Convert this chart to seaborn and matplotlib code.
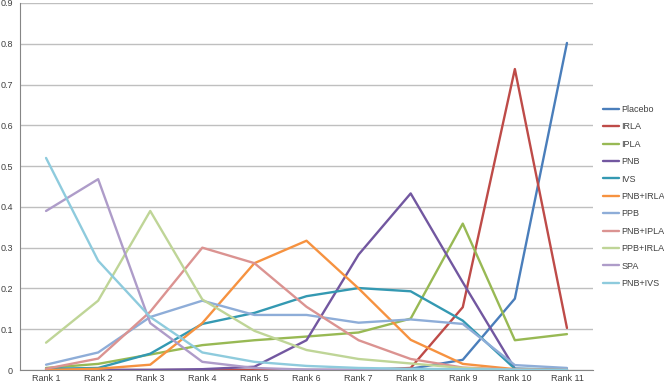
import pandas as pd
import numpy as np
import matplotlib
matplotlib.use("Agg")
import matplotlib.pyplot as plt
import seaborn as sns

# categorias do eixo x
ranks = ['Rank 1', 'Rank 2', 'Rank 3', 'Rank 4', 'Rank 5', 'Rank 6',
         'Rank 7', 'Rank 8', 'Rank 9', 'Rank 10', 'Rank 11']

# probabilidades
placebo = [0.0, 0.0, 0.0, 0.0, 0.0, 0.0, 0.0, 0.003, 0.025, 0.175, 0.802]
irla = [0.0, 0.0, 0.0, 0.0, 0.0, 0.0, 0.0, 0.005, 0.154, 0.738, 0.103]
ipla = [0.005, 0.015, 0.038, 0.061, 0.073, 0.082, 0.092, 0.126, 0.359, 0.073, 0.088]
pnb = [0.0, 0.0, 0.0, 0.002, 0.008, 0.073, 0.283, 0.433, 0.215, 0.003, 0.0]
ivs = [0.003, 0.005, 0.04, 0.113, 0.14, 0.181, 0.201, 0.193, 0.121, 0.003, 0.002]
pnb_irla = [0.0, 0.003, 0.013, 0.115, 0.262, 0.317, 0.2, 0.074, 0.015, 0.002, 0.0]
ppb = [0.013, 0.043, 0.13, 0.17, 0.135, 0.135, 0.116, 0.124, 0.113, 0.012, 0.005]
pnb_ipla = [0.003, 0.028, 0.143, 0.3, 0.262, 0.155, 0.073, 0.027, 0.006, 0.001, 0.0]
ppb_irla = [0.067, 0.17, 0.39, 0.173, 0.096, 0.049, 0.027, 0.016, 0.005, 0.0, 0.0]
spa = [0.39, 0.468, 0.115, 0.02, 0.005, 0.001, 0.0, 0.0, 0.0, 0.0, 0.0]
pnb_ivs = [0.52, 0.268, 0.13, 0.043, 0.02, 0.01, 0.005, 0.003, 0.002, 0.001, 0.0]

nomes = ['Placebo', 'IRLA', 'IPLA', 'PNB', 'IVS', 'PNB+IRLA', 'PPB',
         'PNB+IPLA', 'PPB+IRLA', 'SPA', 'PNB+IVS']
series = [placebo, irla, ipla, pnb, ivs, pnb_irla, ppb, pnb_ipla, ppb_irla, spa, pnb_ivs]
cores = ['#4A7EBB', '#BE4B48', '#98B954', '#7257A0', '#3499B2', '#F69240',
         '#8EADD8', '#DB9391', '#BFD597', '#AE9CC9', '#8ECBDD']

# montar dataframe longo
registros = []
for nome, valores in zip(nomes, series):
    for i, v in enumerate(valores):
        registros.append({'rank': i, 'serie': nome, 'prob': v})
df = pd.DataFrame(registros)

sns.set_style('white')
plt.rcParams['font.family'] = ['Liberation Sans', 'DejaVu Sans']

fig = plt.figure(figsize=(6.64, 3.85), dpi=100)
ax = fig.add_axes([20 / 664, 1 - 370 / 385, (593 - 20) / 664, (370 - 3) / 385])

sns.lineplot(data=df, x='rank', y='prob', hue='serie', hue_order=nomes,
             palette=cores, linewidth=1.7, ax=ax, legend=False, zorder=3)

ax.set_xlim(-0.5, 10.5)
ax.set_ylim(0, 0.9)
ax.set_yticks(np.arange(0, 0.91, 0.1))
ax.set_yticklabels(['0'] + [f'{v:.1f}' for v in np.arange(0.1, 0.91, 0.1)])
ax.set_xticks(range(len(ranks)))
ax.set_xticklabels(ranks)
ax.set_xticks(np.arange(-0.5, 11, 1), minor=True)
ax.grid(axis='y', color='#BFBFBF', linewidth=1)
ax.set_axisbelow(True)
ax.tick_params(axis='x', which='major', length=0, labelsize=6.5, colors='#404040', pad=3)
ax.tick_params(axis='x', which='minor', length=3, color='#868686', width=0.8)
ax.tick_params(axis='y', length=3, color='#868686', width=0.8, labelsize=6.5,
               labelcolor='#404040', pad=2)
for lado in ['top', 'right']:
    ax.spines[lado].set_visible(False)
ax.spines['left'].set_color('#868686')
ax.spines['bottom'].set_color('#868686')
ax.spines['left'].set_linewidth(0.8)
ax.spines['bottom'].set_linewidth(0.8)
ax.set_xlabel('')
ax.set_ylabel('')

# legenda à direita
handles = [plt.Line2D([0], [0], color=c, lw=1.7) for c in cores]
fig.legend(handles, nomes, loc='upper left', bbox_to_anchor=(603 / 664, 1 - 105 / 385),
           frameon=False, fontsize=6.5, handlelength=1.8, handletextpad=0.2,
           labelspacing=0.93, borderaxespad=0, borderpad=0, labelcolor='#404040')

fig.savefig('out.png', dpi=100)
